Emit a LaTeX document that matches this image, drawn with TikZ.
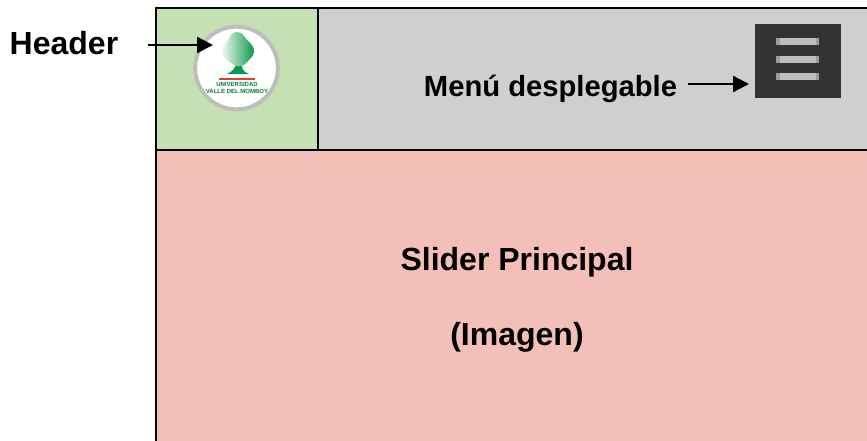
\documentclass[tikz,border=0pt]{standalone}
\usepackage{fontspec}
\setmainfont{Liberation Sans}
\usetikzlibrary{arrows.meta}
\definecolor{hdrgreen}{HTML}{C5E0B3}
\definecolor{hdrgrey}{HTML}{D0CECE}
\definecolor{slider}{HTML}{F3BFB8}
\definecolor{burger}{HTML}{333335}
\definecolor{barlight}{HTML}{BEBEBE}
\definecolor{barend}{HTML}{9C9C9C}
\definecolor{ring}{HTML}{BDBDBD}
\definecolor{treegreen}{HTML}{0B9A4B}
\definecolor{logored}{HTML}{D8402F}
\tikzset{
  x=0.75pt,y=-0.75pt,
  panel/.style={draw=black,line width=1.6pt},
  label/.style={font=\fontsize{24}{28}\selectfont\bfseries,text=black,inner sep=0pt,anchor=base},
  menulab/.style={font=\fontsize{21.9}{26}\selectfont\bfseries,text=black,inner sep=0pt,anchor=base},
  conn/.style={draw=black,line width=1.7pt,-{Triangle[length=12pt,width=12pt]}},
  logotext/.style={font=\fontsize{4.5}{5}\selectfont\bfseries,text=treegreen!80!black,inner sep=0pt},
  burgerbar/.style={fill=barlight,draw=none},
  burgerend/.style={fill=barend,draw=none}
}
\begin{document}
\begin{tikzpicture}
\useasboundingbox (0,0) rectangle (867,440);
% panels
\path[panel,fill=slider] (156,150) rectangle (870,445);
\path[panel,fill=hdrgreen] (156,8) rectangle (318,150);
\path[panel,fill=hdrgrey] (318,8) rectangle (870,150);
% logo
\node[circle,draw=ring,fill=white,line width=3pt,minimum size=62pt,inner sep=0pt] (logo) at (236.5,68) {};
\fill[treegreen] (236,62) .. controls (236,68) and (233,71) .. (227,74)
  -- (249,74) .. controls (243,72) and (241,68) .. (242,60) -- cycle;
\shade[left color=white,middle color=treegreen!85!white,right color=treegreen]
  (220,51) .. controls (222,46) and (226,44) .. (228,40)
  .. controls (230,35) and (233,32) .. (237,32)
  .. controls (242,32) and (244,36) .. (247,40)
  .. controls (251,43) and (254,47) .. (254,51)
  .. controls (254,56) and (250,59) .. (247,62)
  .. controls (244,66) and (240,67) .. (236,66)
  .. controls (230,63) and (222,57) .. (220,51) -- cycle;
\fill[logored] (219,78) rectangle (255,80);
\node[logotext] (logoa) at (237,84) {UNIVERSIDAD};
\node[logotext] (logob) at (237,91) {VALLE DEL MOMBOY};
% burger icon
\node[fill=burger,minimum width=64.5pt,minimum height=55.5pt,inner sep=0pt] (menuicon) at (798,61) {};
\foreach \ytop in {38,56,73}{
  \fill[burgerbar] (776,\ytop) rectangle (819,\ytop+7);
  \fill[burgerend] (776,\ytop) rectangle (780,\ytop+7);
  \fill[burgerend] (816,\ytop) rectangle (819,\ytop+7);
}
% labels
\node[label] (hdr) at (64,54) {Header};
\node[menulab] (menulabel) at (550.5,96.7) {Menú desplegable};
\node[label] (slidertitle) at (517,270.7) {Slider Principal};
\node[label] (imagen) at (517,345) {(Imagen)};
% connectors
\coordinate (hdrstart) at (148,45);
\coordinate (hdrtip) at (213,45);
\coordinate (menustart) at (688,84);
\coordinate (menutip) at (749,84);
\draw[conn] (hdrstart) -- (hdrtip);
\draw[conn] (menustart) -- (menutip);
\end{tikzpicture}
\end{document}
